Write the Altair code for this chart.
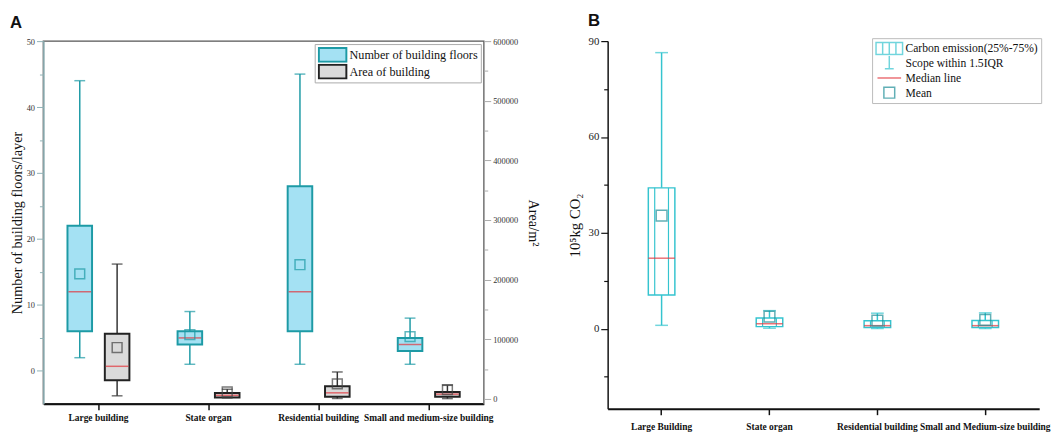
import altair as alt
import pandas as pd

# ---------------- data ----------------
categories_A = ["Large building", "State organ", "Residential building", "Small and medium-size building"]
series_A = ["Number of building floors", "Area of building"]

floors_low = [2, 1, 1, 1]
floors_q1 = [6, 4, 6, 3]
floors_median = [12, 5, 12, 4]
floors_q3 = [22, 6, 28, 5]
floors_high = [44, 9, 45, 8]
floors_mean = [14.7, 5.5, 16.1, 5.2]

area_low = [5000, 1500, 500, 300]
area_q1 = [31000, 2200, 3300, 3300]
area_median = [54500, 5800, 10000, 7800]
area_q3 = [109000, 9900, 21000, 11500]
area_high = [226000, 16000, 45000, 22600]
area_mean = [86000, 11500, 25000, 15400]

categories_B = ["Large Building", "State organ", "Residential building", "Small and Medium-size building"]
legend_B = ["Carbon emission(25%-75%)", "Scope within 1.5IQR", "Median line", "Mean"]

co2_low = [1.1, 0.2, 0.1, 0.1]
co2_q1 = [10.6, 0.7, 0.4, 0.4]
co2_median = [22.1, 1.6, 1.0, 1.0]
co2_q3 = [44.1, 3.4, 2.5, 2.6]
co2_high = [86.4, 5.7, 4.9, 5.0]
co2_mean = [35.4, 3.8, 2.6, 2.8]

floors_ticks = [0, 5, 10, 15, 20, 25, 30, 35, 40, 45, 50]
area_ticks = [0, 50000, 100000, 150000, 200000, 250000, 300000, 350000, 400000, 450000, 500000, 550000, 600000]
co2_ticks = [-15, 0, 15, 30, 45, 60, 75, 90]

# ---------------- styles ----------------
SERIF = "Liberation Serif"
SANS = "Liberation Sans"
TEAL = "#1d9aa5"
LIGHTBLUE = "#a4e1f3"
GREYFILL = "#dadada"
DARK = "#222222"
RED = "#e3343c"
CYAN = "#35c4cf"
MEANB = "#1f8e97"


def frame(cats, low, q1, med, q3, high, mean, series=None):
    d = pd.DataFrame({"cat": cats, "low": low, "q1": q1, "median": med,
                      "q3": q3, "high": high, "mean": mean})
    if series is not None:
        d["series"] = series
    return d


dfF = frame(categories_A, floors_low, floors_q1, floors_median, floors_q3, floors_high, floors_mean, series_A[0])
dfA = frame(categories_A, area_low, area_q1, area_median, area_q3, area_high, area_mean, series_A[1])
dfC = frame(categories_B, co2_low, co2_q1, co2_median, co2_q3, co2_high, co2_mean)
dfLeg = pd.DataFrame({"leg": legend_B, "val": [None] * len(legend_B)})


def x_enc(cats, pad):
    return alt.X("cat:N", sort=cats,
                 scale=alt.Scale(domain=cats, paddingInner=0, paddingOuter=0),
                 axis=alt.Axis(title=None, labelAngle=0, labelFont=SERIF, labelFontSize=9.6,
                               labelFontWeight="bold", labelColor="#111", domainColor="#111",
                               domainWidth=2, tickColor="#111", tickWidth=1.5, tickSize=6,
                               labelPadding=pad, labelLimit=300))


xA = x_enc(categories_A, 3)
xB = x_enc(categories_B, 7)

# ---------- panel A ----------
legA = alt.Legend(title=None, orient="top-right", offset=3, strokeColor="#aaaaaa", padding=3,
                  labelFont=SERIF, labelFontSize=12.4, labelColor="#111",
                  symbolType="M-2.8,-1.4H2.8V1.4H-2.8Z", symbolSize=100, symbolStrokeWidth=2,
                  symbolOffset=9, labelOffset=11, rowPadding=1, clipHeight=16)
fill_scale = alt.Scale(domain=series_A, range=[LIGHTBLUE, GREYFILL])
stroke_scale = alt.Scale(domain=series_A, range=[TEAL, DARK])


def y_axis_floors():
    return alt.Axis(values=floors_ticks, grid=False, title="Number of building floors/layer",
                    titleFont=SERIF, titleFontSize=14.5, titleFontWeight="normal", titleColor="#111",
                    titlePadding=2,
                    labelFont=SERIF, labelFontSize=8.5, labelColor="#333",
                    labelExpr="datum.value % 10 === 0 ? datum.label : ''",
                    domainColor="#8fb1b6", domainWidth=1.5, tickColor="#8fb1b6", tickWidth=1,
                    tickSize={"condition": {"test": "datum.value % 10 === 0", "value": 7}, "value": 4})


def y_axis_area():
    return alt.Axis(orient="right", values=area_ticks, grid=False, title="Area/m²",
                    titleFont=SERIF, titleFontSize=14.5, titleFontWeight="normal", titleColor="#111",
                    titlePadding=8,
                    labelFont=SERIF, labelFontSize=8.5, labelColor="#333", format="d",
                    labelExpr="datum.value % 100000 === 0 ? datum.label : ''",
                    domainColor="#aaaaaa", domainWidth=1.5, tickColor="#aaaaaa", tickWidth=1,
                    tickSize={"condition": {"test": "datum.value % 100000 === 0", "value": 7}, "value": 4})


def box_group(df, x, yscale, yaxis_fn, off, wcolor, mcolor, bw, cap):
    def Y(f):
        return alt.Y(f"{f}:Q", scale=yscale, axis=yaxis_fn())
    base = alt.Chart(df)
    whisk = base.mark_rule(color=wcolor, strokeWidth=1.5, xOffset=off).encode(x=x, y=Y("low"), y2="high:Q")
    box = base.mark_bar(width=bw, strokeWidth=2, xOffset=off).encode(
        x=x, y=Y("q1"), y2="q3:Q",
        fill=alt.Fill("series:N", scale=fill_scale, legend=legA),
        stroke=alt.Stroke("series:N", scale=stroke_scale, legend=legA))
    cap_lo = base.mark_tick(orient="horizontal", size=cap, thickness=1.5, color=wcolor, xOffset=off).encode(x=x, y=Y("low"))
    cap_hi = base.mark_tick(orient="horizontal", size=cap, thickness=1.5, color=wcolor, xOffset=off).encode(x=x, y=Y("high"))
    med = base.mark_tick(orient="horizontal", size=bw - 2, thickness=1.5, color=RED, xOffset=off).encode(x=x, y=Y("median"))
    mean = base.mark_point(shape="square", size=100, filled=False, color=mcolor, strokeWidth=1.5,
                           xOffset=off).encode(x=x, y=Y("mean"))
    return alt.layer(whisk, box, cap_lo, cap_hi, med, mean)


yF_scale = alt.Scale(domain=[-5, 50], nice=False, zero=False)
yA_scale = alt.Scale(domain=[-8500, 600000], nice=False, zero=False)

floors = box_group(dfF, xA, yF_scale, y_axis_floors, -19, TEAL, TEAL, 25, 11)
area = box_group(dfA, xA, yA_scale, y_axis_area, 19, "#333333", "#444444", 25, 11)

panelA = alt.layer(floors, area).resolve_scale(y="independent").properties(
    width=448, height=369,
    title=alt.TitleParams("A", anchor="start", frame="group", font=SANS, fontSize=17, fontWeight="bold",
                          color="#111", dx=-34, offset=5),
    view=alt.ViewBackground(stroke="#555555", strokeWidth=1.5))

# ---------- panel B ----------
yC_scale = alt.Scale(domain=[-25, 90], nice=False, zero=False)


def y_axis_co2():
    return alt.Axis(values=co2_ticks, grid=False, title="10⁵kg CO₂",
                    titleFont=SERIF, titleFontSize=15, titleFontWeight="normal", titleColor="#111",
                    titlePadding=6,
                    labelFont=SERIF, labelFontSize=11, labelColor="#222",
                    labelExpr="datum.value % 30 === 0 ? datum.label : ''",
                    domainColor="#111", domainWidth=1.5, tickColor="#111", tickWidth=1.2,
                    tickSize={"condition": {"test": "datum.value % 30 === 0", "value": 7}, "value": 4})


def YC(f):
    return alt.Y(f"{f}:Q", scale=yC_scale, axis=y_axis_co2())


baseC = alt.Chart(dfC)
boxC = baseC.mark_bar(width=27, fill="white", stroke=CYAN, strokeWidth=1.5).encode(x=xB, y=YC("q1"), y2="q3:Q")
whiskC = baseC.mark_rule(color=CYAN, strokeWidth=1.5).encode(x=xB, y=YC("low"), y2="high:Q")
stripeL = baseC.mark_rule(color=CYAN, strokeWidth=1.2, xOffset=-7).encode(x=xB, y=YC("q1"), y2="q3:Q")
stripeR = baseC.mark_rule(color=CYAN, strokeWidth=1.2, xOffset=7).encode(x=xB, y=YC("q1"), y2="q3:Q")
capLoC = baseC.mark_tick(orient="horizontal", size=13, thickness=1.5, color=CYAN).encode(x=xB, y=YC("low"))
capHiC = baseC.mark_tick(orient="horizontal", size=13, thickness=1.5, color=CYAN).encode(x=xB, y=YC("high"))
medC = baseC.mark_tick(orient="horizontal", size=27, thickness=1.5, color=RED).encode(x=xB, y=YC("median"))
meanC = baseC.mark_point(shape="square", size=120, filled=False, color=MEANB, strokeWidth=1.5).encode(x=xB, y=YC("mean"))

leg_paths = [
    "M-2.7,-1.2H2.7V1.2H-2.7Z M-1.35,-1.2V1.2 M0,-1.2V1.2 M1.35,-1.2V1.2",
    "M0,-1.5V1.1 M-0.9,1.1H0.9",
    "M-2.4,0H2.4",
    "M-1.1,-1.1H1.1V1.1H-1.1Z",
]
leg_colors = [CYAN, CYAN, RED, MEANB]
legB = alt.Legend(title=None, orient="none", legendX=269, legendY=-3, strokeColor="#bbbbbb", padding=3,
                  labelFont=SERIF, labelFontSize=11.8, labelColor="#111",
                  symbolSize=100, symbolStrokeWidth=1.5, symbolOffset=8.5, labelOffset=10.5, rowPadding=0,
                  clipHeight=15)
legLayer = alt.Chart(dfLeg).mark_point(filled=False, size=100, strokeWidth=1.5).encode(
    y=YC("val"),
    shape=alt.Shape("leg:N", scale=alt.Scale(domain=legend_B, range=leg_paths), legend=legB),
    stroke=alt.Stroke("leg:N", scale=alt.Scale(domain=legend_B, range=leg_colors), legend=legB))

panelB = alt.layer(whiskC, boxC, stripeL, stripeR, capLoC, capHiC, medC, meanC, legLayer).properties(
    width=439, height=374,
    title=alt.TitleParams("B", anchor="start", frame="group", font=SANS, fontSize=17, fontWeight="bold",
                          color="#111", dx=-20, offset=5),
    view=alt.ViewBackground(stroke="transparent"))

chart = alt.hconcat(panelA, panelB, spacing=25).resolve_scale(
    fill="independent", stroke="independent", shape="independent").properties(padding=0).configure(
    background="white").configure_view(stroke="transparent")

chart.save("out.html", embed_options={"renderer": "svg", "actions": False})
